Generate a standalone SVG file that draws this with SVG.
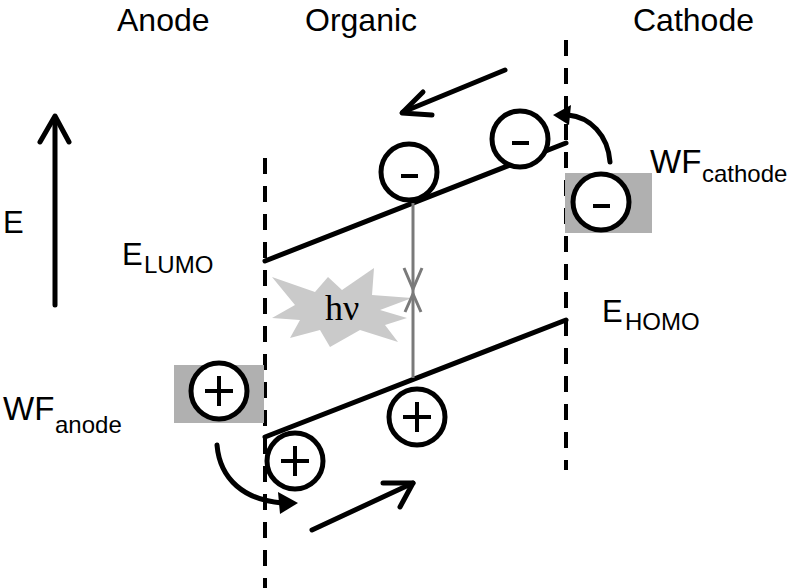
<svg xmlns="http://www.w3.org/2000/svg" width="800" height="588" viewBox="0 0 800 588">
<style>
text{font-family:"Liberation Sans",Arial,sans-serif;fill:#000}
.t{font-size:32px}
.big{font-size:31px}
.wf{font-size:33px}
.sub{font-size:24px}
.ln{stroke:#000;stroke-width:5;fill:none;stroke-linecap:round;stroke-linejoin:round}
.dash{stroke:#000;stroke-width:4;stroke-dasharray:16 12;fill:none}
.circ{fill:#fff;stroke:#000;stroke-width:5}
.sign{stroke:#000;stroke-width:4;fill:none}
.box{fill:#b0b0b0}
.gray{stroke:#7a7a7a;stroke-width:3;fill:none}
</style>
<rect width="800" height="588" fill="#fff"/>
<g id="titles">
<text class="t" x="117" y="31">Anode</text>
<text class="t" x="305" y="31">Organic</text>
<text class="t" x="633" y="31">Cathode</text>
</g>
<g id="energy-axis">
<path class="ln" d="M55,305 V118"/>
<path class="ln" d="M40,142 L55,116 L69,142"/>
<text class="big" x="3" y="233">E</text>
</g>
<g id="electrodes">
<path class="dash" d="M265,158 V588"/>
<path class="dash" d="M566,40 V470"/>
</g>
<g id="levels">
<path class="ln" d="M265,261 L566,143"/>
<path class="ln" d="M265,437 L566,320"/>
<text class="big" x="122" y="265">E<tspan class="sub" x="144" y="273">LUMO</tspan></text>
<text class="big" x="602" y="322">E<tspan class="sub" x="625" y="330">HOMO</tspan></text>
</g>
<g id="emission">
<polygon fill="#cacaca" points="272,277 315,292 328,277 342,290 374,268 372,295 412,298 380,310 407,318 385,325 398,342 360,330 330,347 320,330 290,338 300,320 272,318 295,305"/>
<text x="325" y="320" style="font-family:'Liberation Serif','Times New Roman',serif;font-size:36px">hν</text>
<path class="gray" d="M413,203 V378"/>
<path class="gray" d="M404,268 L413,289 L422,268"/>
<path class="gray" d="M405,312 L413,294 L421,312"/>
</g>
<g id="anode-hole">
<rect class="box" x="174" y="365" width="90" height="58"/>
<circle class="circ" cx="219" cy="391" r="28"/>
<path class="sign" d="M205,391 H233 M219,376 V406"/>
<text class="wf" x="3" y="420">WF<tspan class="sub" x="55" y="433">anode</tspan></text>
</g>
<g id="cathode-electron">
<rect class="box" x="565" y="173" width="87" height="60"/>
<circle class="circ" cx="601" cy="202" r="28"/>
<path class="sign" d="M593,206 H610"/>
<text class="wf" x="650" y="173">WF<tspan class="sub" x="702" y="182">cathode</tspan></text>
</g>
<g id="electron-1">
<circle class="circ" cx="409" cy="172" r="28"/>
<path class="sign" d="M401,176 H418"/>
</g>
<g id="electron-2">
<circle class="circ" cx="520" cy="139" r="28"/>
<path class="sign" d="M512,143 H529"/>
</g>
<g id="hole-1">
<circle class="circ" cx="295" cy="461" r="28"/>
<path class="sign" d="M281,461 H309 M295,446 V476"/>
</g>
<g id="hole-2">
<circle class="circ" cx="417" cy="417" r="28"/>
<path class="sign" d="M403,417 H431 M417,402 V432"/>
</g>
<g id="connectors">
<path class="ln" d="M505,70 L403,112"/>
<path class="ln" d="M423,92 L402,113 L432,115"/>
<path class="ln" d="M312,530 L413,483"/>
<path class="ln" d="M383,483 L413,483 L400,507"/>
<path class="ln" d="M217,445 C220,480 245,500 282,503"/>
<polygon points="298,503 278,492 280,514" fill="#000"/>
<path class="ln" d="M610,162 C608,135 590,117 568,115"/>
<polygon points="553,115 571,105 569,125" fill="#000"/>
</g>
</svg>
